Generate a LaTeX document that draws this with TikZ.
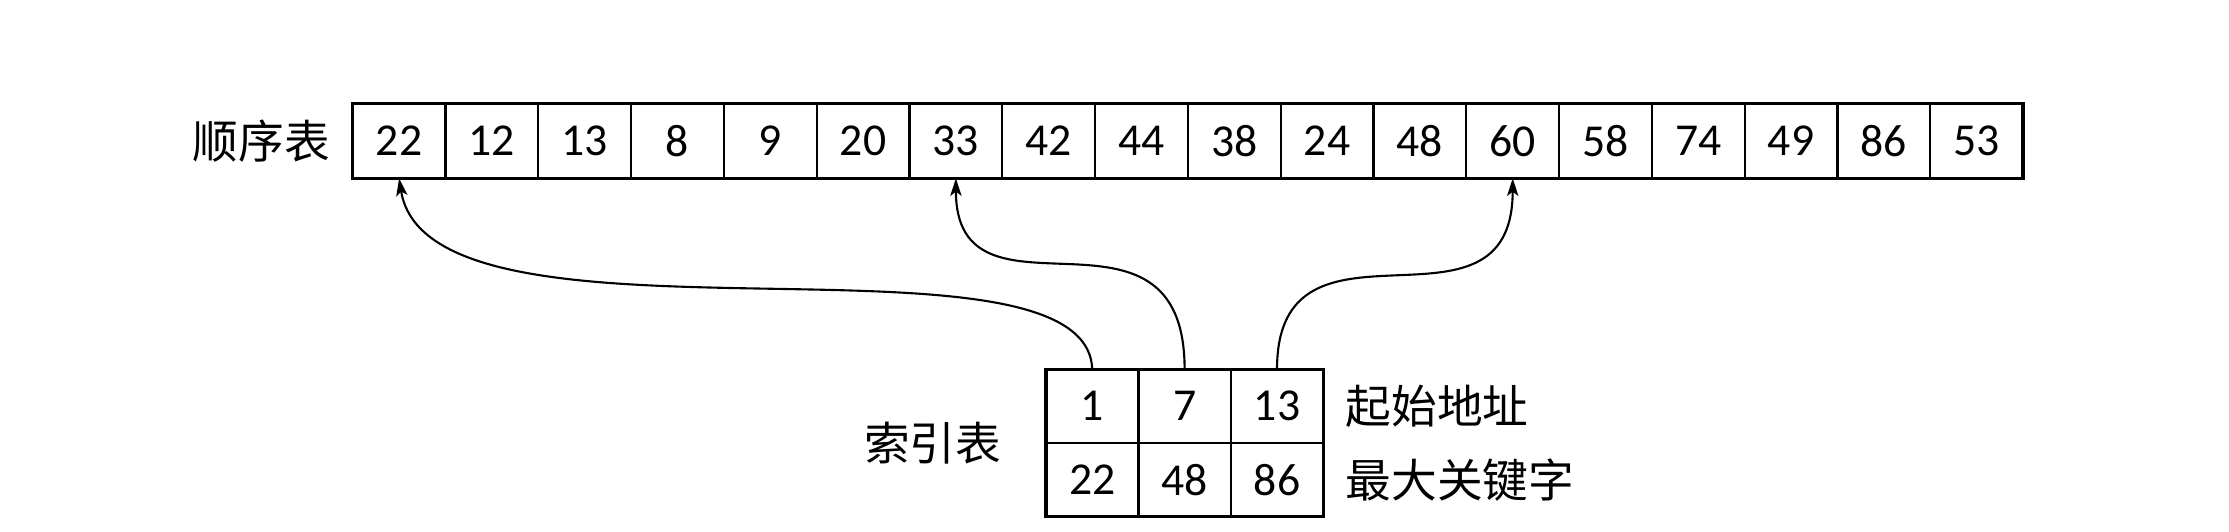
\documentclass[tikz,border=0pt]{standalone}
\usepackage{fontspec}
\setmainfont{Carlito}
\newfontfamily\cjk{Noto Sans CJK SC}
\usepackage{tikz}
\usetikzlibrary{positioning, arrows.meta}

\tikzset{
    cell/.style={draw, line width=0.65pt, minimum width=0.928cm, minimum height=0.75cm,
        inner sep=0pt, outer sep=0pt, font=\fontsize{13pt}{15pt}\selectfont},
    icell/.style={cell, minimum width=0.924cm, minimum height=0.737cm},
    lab/.style={inner sep=0pt, font=\cjk\fontsize{13pt}{15pt}\selectfont},
    link/.style={line width=0.6pt, -{Stealth[length=5pt, width=3.2pt, inset=1.2pt]}}
}

\begin{document}
\begin{tikzpicture}
            \useasboundingbox (0,0) rectangle (22.29,5.31);

            % Thứ tự bảng (顺序表)
            \node[cell] (s1) at (3.991, 3.902) {22};
            \foreach \v [count=\i from 2, remember=\i as \j (initially 1)] in {12,13,8,9,20,33,42,44,38,24,48,60,58,74,49,86,53}
                \node[cell, right=0pt of s\j] (s\i) {\v};
            \draw[line width=0.95pt] (s1.north west) rectangle (s18.south east);
            \node[lab, left=0.22cm of s1] (seq) {顺序表};

            % Bảng chỉ mục (索引表)
            \node[icell] (a1) at (10.922, 1.2485) {1};
            \node[icell, right=0pt of a1] (a2) {7};
            \node[icell, right=0pt of a2] (a3) {13};
            \node[icell, below=0pt of a1] (k1) {22};
            \node[icell, below=0pt of a2] (k2) {48};
            \node[icell, below=0pt of a3] (k3) {86};
            \draw[line width=0.95pt] (a1.north west) rectangle (k3.south east);
            \node[lab, left=0.44cm of a1.south west] (idx) {索引表};
            \node[lab, right=0.22cm of a3] (addr) {起始地址};
            \node[lab, right=0.22cm of k3] (key) {最大关键字};

            % Mũi tên
            \draw[link] (a1.north) .. controls +(-0.05,1.55) and +(0.3,-1.9) .. (s1.south);
            \draw[link] (a2.north) .. controls +(0,1.9) and +(0,-1.6) .. (s7.south);
            \draw[link] (a3.north) .. controls +(0,1.75) and +(0,-1.75) .. (s13.south);
        \end{tikzpicture}
\end{document}
